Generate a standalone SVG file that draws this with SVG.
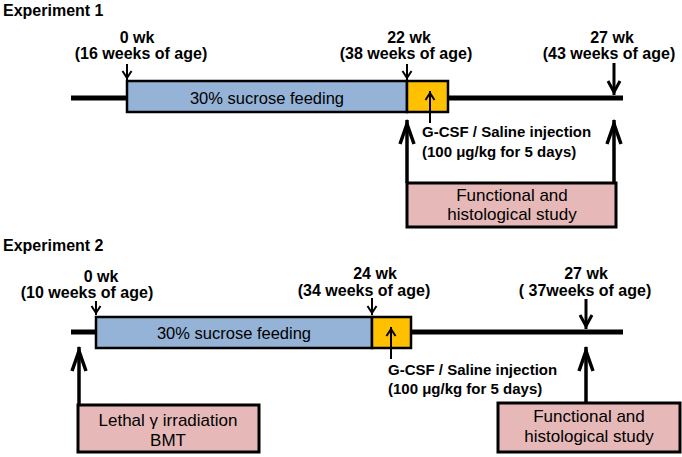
<svg xmlns="http://www.w3.org/2000/svg" width="682" height="457" viewBox="0 0 682 457">
<defs>
<marker id="bigHead" markerUnits="userSpaceOnUse" markerWidth="30" markerHeight="30" refX="0" refY="0" orient="auto" overflow="visible">
<path d="M-24,-7 L-4,0 L-24,7" fill="none" stroke="#000" stroke-width="3.5" stroke-linejoin="miter"/>
</marker>
<marker id="mdHead" markerUnits="userSpaceOnUse" markerWidth="30" markerHeight="30" refX="0" refY="0" orient="auto" overflow="visible">
<path d="M-14,-6 L-3,0 L-14,6" fill="none" stroke="#000" stroke-width="3" stroke-linejoin="miter"/>
</marker>
<marker id="smHead" markerUnits="userSpaceOnUse" markerWidth="20" markerHeight="20" refX="0" refY="0" orient="auto" overflow="visible">
<path d="M-9,-4.5 L-2,0 L-9,4.5" fill="none" stroke="#000" stroke-width="2" stroke-linejoin="miter"/>
</marker>
</defs>
<style>
text{font-family:"Liberation Sans",Arial,sans-serif;fill:#000}
.title{font-weight:bold;font-size:16px}
.wk{font-weight:bold;font-size:16px;text-anchor:middle}
.inj{font-weight:bold;font-size:15px}
.bt{font-size:16.5px;text-anchor:middle}
.pt{font-size:17px;text-anchor:middle}
.tl{stroke:#000;stroke-width:5;fill:none}
.blue{fill:#95B3D7;stroke:#000;stroke-width:2.5}
.or{fill:#FFC000;stroke:#000;stroke-width:2.5}
.pink{fill:#E6B9B8;stroke:#000;stroke-width:3}
.big{stroke:#000;stroke-width:3.5;fill:none;marker-end:url(#bigHead)}
.md{stroke:#000;stroke-width:3;fill:none;marker-end:url(#mdHead)}
.sm{stroke:#000;stroke-width:2;fill:none;marker-end:url(#smHead)}
</style>

<g id="exp1-title"><text class="title" x="3" y="16">Experiment 1</text></g>
<g id="exp1-lab0"><text class="wk" x="137" y="43">0 wk</text><text class="wk" x="141" y="59">(16 weeks of age)</text></g>
<g id="exp1-lab22"><text class="wk" x="409" y="43">22 wk</text><text class="wk" x="406" y="59">(38 weeks of age)</text></g>
<g id="exp1-lab27"><text class="wk" x="612" y="43">27 wk</text><text class="wk" x="609" y="59">(43 weeks of age)</text></g>
<g id="exp1-timeline"><line class="tl" x1="71" y1="98" x2="127" y2="98"/><line class="tl" x1="448" y1="98" x2="623" y2="98"/></g>
<g id="exp1-sucrose"><rect class="blue" x="127" y="81" width="280" height="31"/><text class="bt" x="267" y="104">30% sucrose feeding</text></g>
<g id="exp1-gcsf"><rect class="or" x="407" y="81" width="41" height="31"/></g>
<g id="exp1-inj"><text class="inj" x="422" y="137">G-CSF / Saline injection</text><text class="inj" x="422" y="157">(100 μg/kg for 5 days)</text></g>
<g id="exp1-study"><rect class="pink" x="407" y="183" width="209" height="44"/><text class="pt" x="512" y="201">Functional and</text><text class="pt" x="512" y="220">histological study</text></g>

<g id="exp2-title"><text class="title" x="3" y="251">Experiment 2</text></g>
<g id="exp2-lab0"><text class="wk" x="101" y="282">0 wk</text><text class="wk" x="87" y="298">(10 weeks of age)</text></g>
<g id="exp2-lab24"><text class="wk" x="375" y="279">24 wk</text><text class="wk" x="364" y="296">(34 weeks of age)</text></g>
<g id="exp2-lab27"><text class="wk" x="586" y="279">27 wk</text><text class="wk" x="585" y="296">( 37weeks of age)</text></g>
<g id="exp2-timeline"><line class="tl" x1="71" y1="332" x2="96" y2="332"/><line class="tl" x1="411" y1="332" x2="623" y2="332"/></g>
<g id="exp2-sucrose"><rect class="blue" x="96" y="317" width="276" height="31"/><text class="bt" x="234" y="339">30% sucrose feeding</text></g>
<g id="exp2-gcsf"><rect class="or" x="372" y="317" width="39" height="31"/></g>
<g id="exp2-inj"><text class="inj" x="388" y="375">G-CSF / Saline injection</text><text class="inj" x="388" y="394">(100 μg/kg for 5 days)</text></g>
<g id="exp2-bmt"><rect class="pink" x="78" y="405" width="181" height="47"/><text class="pt" x="168" y="426">Lethal γ irradiation</text><text class="pt" x="168" y="446">BMT</text></g>
<g id="exp2-study"><rect class="pink" x="498" y="403" width="182" height="49"/><text class="pt" x="589" y="422">Functional and</text><text class="pt" x="589" y="442">histological study</text></g>

<g id="connectors">
<line class="sm" x1="127" y1="64" x2="127" y2="80"/>
<line class="sm" x1="407" y1="64" x2="407" y2="80"/>
<line class="md" x1="614" y1="63" x2="614" y2="95"/>
<line class="sm" x1="430" y1="123" x2="430" y2="91"/>
<line class="big" x1="407" y1="183" x2="407" y2="120"/>
<line class="big" x1="614" y1="183" x2="614" y2="120"/>
<line class="sm" x1="96" y1="301" x2="96" y2="315"/>
<line class="sm" x1="372" y1="298" x2="372" y2="315"/>
<line class="md" x1="586" y1="299" x2="586" y2="329"/>
<line class="sm" x1="391" y1="359" x2="391" y2="327"/>
<line class="big" x1="79" y1="405" x2="79" y2="347"/>
<line class="big" x1="586" y1="403" x2="586" y2="347"/>
</g>
</svg>
